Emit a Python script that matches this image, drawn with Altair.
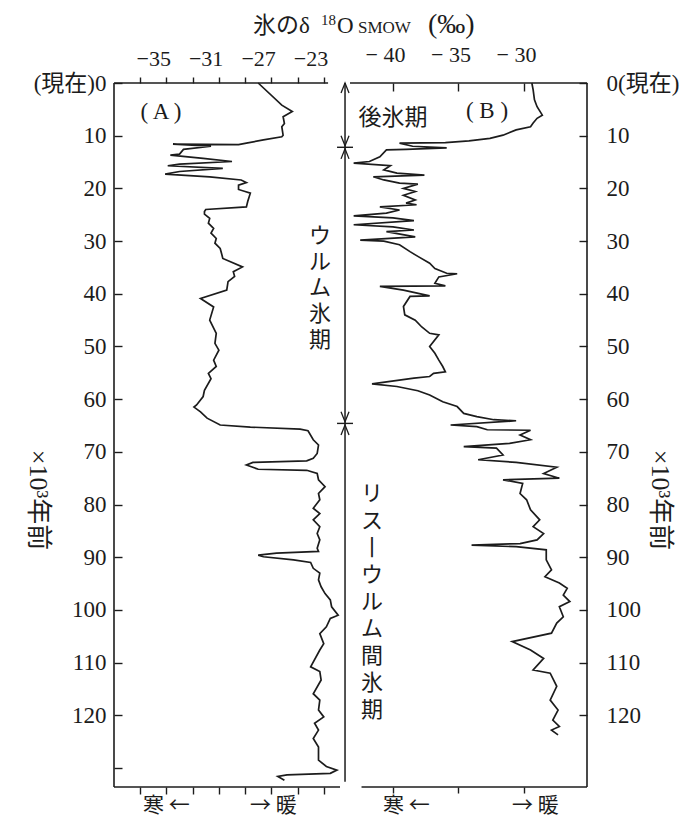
import altair as alt
import pandas as pd

# ---------------- data ----------------
# (A) curve: age (x10^3 years ago) and delta18O (permil)
age_A = [0.0, 4.2, 5.4, 6.4, 7.7, 8.3, 9.9, 10.2, 10.8, 11.4, 11.7, 11.6, 12.0, 12.6, 13.5, 13.7,
         14.3, 14.9, 15.4, 15.7, 16.2, 16.8, 17.3, 17.8, 18.4, 18.9, 19.4, 20.2, 20.6, 20.9, 22.5,
         23.5, 24.0, 24.4, 24.9, 25.7, 26.6, 27.6, 28.5, 29.5, 30.4, 31.4, 32.3, 33.3, 34.9, 35.8,
         36.7, 37.7, 39.3, 40.9, 42.5, 45.0, 47.5, 49.4, 50.7, 52.6, 53.8, 55.1, 56.1, 58.3, 59.5,
         61.1, 61.5, 62.4, 63.6, 64.9, 65.3, 65.7, 66.0, 67.7, 68.7, 70.3, 71.2, 71.7, 72.0, 72.5,
         73.3, 73.5, 74.1, 75.3, 76.6, 77.9, 79.1, 80.7, 81.7, 82.9, 84.2, 85.5, 86.7, 88.3, 88.9,
         89.2, 89.6, 89.9, 90.5, 91.0, 92.1, 93.0, 94.3, 95.6, 96.9, 98.1, 99.4, 101.0, 101.6,
         103.2, 104.5, 106.4, 107.6, 110.8, 111.7, 113.3, 115.9, 117.1, 119.0, 120.3, 121.5, 122.8,
         124.4, 126.0, 128.5, 129.7, 130.4, 131.0, 131.3, 131.6, 132.3]
d18O_A = [-28.0, -26.2, -25.4, -26.1, -26.0, -26.2, -26.1, -26.2, -27.6, -28.9, -29.5, -34.5, -31.6,
          -33.7, -34.0, -34.7, -32.2, -30.0, -34.0, -34.9, -30.7, -34.0, -35.1, -31.7, -29.3, -28.9,
          -29.5, -29.5, -29.0, -28.6, -28.8, -28.9, -32.0, -32.1, -32.1, -31.7, -31.8, -31.4, -31.6,
          -31.2, -31.3, -30.9, -30.8, -30.7, -29.2, -29.9, -29.8, -30.3, -30.4, -32.4, -31.4, -31.7,
          -31.2, -31.3, -31.0, -31.4, -31.2, -31.8, -31.6, -32.1, -32.2, -32.7, -32.9, -32.4, -31.9,
          -30.9, -28.6, -24.8, -24.2, -23.8, -23.4, -23.5, -23.8, -24.3, -28.4, -28.9, -28.0, -24.3,
          -23.5, -23.4, -22.9, -23.4, -23.3, -23.8, -23.3, -23.8, -23.3, -23.5, -23.3, -23.5, -23.4,
          -26.6, -28.0, -27.6, -25.3, -24.0, -23.8, -23.3, -23.4, -23.2, -22.9, -22.5, -22.4, -21.9,
          -22.5, -22.8, -23.3, -23.0, -23.3, -24.0, -23.3, -23.2, -23.8, -23.3, -23.4, -23.0, -23.7,
          -23.4, -23.8, -23.4, -23.4, -22.8, -22.0, -22.5, -25.8, -26.5, -26.0]

# (B) curve
age_B = [0.0, 1.3, 3.2, 4.5, 6.1, 6.7, 7.6, 8.3, 8.9, 9.9, 10.5, 11.0, 11.3, 11.4, 12.0, 12.3, 12.6,
         12.7, 14.0, 14.9, 15.2, 15.7, 16.5, 17.1, 17.5, 17.8, 18.4, 19.0, 19.2, 20.0, 20.6, 21.3,
         22.2, 22.8, 23.1, 23.5, 24.1, 24.7, 25.2, 25.6, 26.1, 26.9, 27.3, 27.9, 28.2, 29.2, 29.8,
         30.0, 30.7, 32.0, 32.9, 34.2, 35.2, 36.1, 36.2, 36.8, 38.0, 38.5, 38.6, 39.3, 40.4, 40.5,
         42.4, 44.0, 45.0, 46.3, 47.5, 47.8, 50.0, 51.3, 52.6, 53.8, 54.8, 55.1, 55.7, 56.0, 57.1,
         57.6, 58.4, 59.2, 60.5, 61.4, 62.7, 63.3, 63.9, 64.1, 64.9, 65.2, 65.8, 65.9, 66.8, 67.7,
         68.4, 69.0, 69.3, 70.6, 71.5, 72.0, 72.9, 74.1, 75.0, 75.3, 76.0, 77.9, 79.1, 81.0, 82.9,
         84.2, 85.5, 86.7, 87.4, 87.7, 88.0, 88.6, 90.5, 92.4, 93.7, 94.9, 95.9, 97.2, 98.4, 99.4,
         101.3, 102.5, 104.4, 106.0, 107.6, 109.2, 111.4, 112.0, 114.5, 117.1, 119.0, 120.9, 122.1,
         122.8, 123.7]
d18O_B = [-29.4, -29.3, -29.2, -29.0, -28.6, -29.0, -29.3, -29.5, -30.6, -31.6, -32.6, -34.2, -36.0,
          -39.5, -38.5, -35.9, -39.0, -40.5, -41.0, -41.8, -43.0, -40.2, -40.7, -39.7, -37.6, -41.5,
          -40.7, -39.5, -38.1, -39.2, -38.3, -39.2, -38.3, -39.0, -38.2, -41.0, -39.5, -40.5, -43.0,
          -40.0, -38.4, -43.0, -40.0, -38.4, -40.5, -38.3, -42.5, -40.7, -39.5, -38.7, -38.1, -37.2,
          -36.8, -35.9, -35.1, -36.5, -36.8, -36.0, -41.0, -39.2, -37.2, -38.7, -39.2, -39.1, -38.3,
          -37.8, -37.2, -36.5, -37.2, -36.8, -36.5, -36.2, -36.0, -36.9, -37.2, -38.4, -41.6, -39.7,
          -38.1, -37.2, -36.2, -35.1, -34.6, -33.6, -32.3, -30.6, -35.6, -33.6, -32.8, -29.5, -30.3,
          -29.5, -31.1, -34.6, -32.1, -31.6, -33.5, -30.6, -27.5, -28.5, -27.3, -31.6, -30.1, -30.3,
          -29.8, -29.5, -28.8, -29.3, -28.5, -29.0, -30.3, -34.0, -30.6, -28.3, -28.3, -27.9, -28.4,
          -27.3, -26.7, -27.0, -26.5, -27.3, -27.0, -27.5, -27.9, -30.9, -29.5, -28.5, -29.3, -28.0,
          -27.5, -28.0, -27.4, -27.8, -27.3, -27.9, -27.4]

ticks_A = [-37, -35, -33, -31, -29, -27, -25, -23]
labels_A = [-35, -31, -27, -23]
ticks_B = [-40, -35, -30]
age_ticks_A = [0, 10, 20, 30, 40, 50, 60, 70, 80, 90, 100, 110, 120, 130]
age_ticks_B = [0, 10, 20, 30, 40, 50, 60, 70, 80, 90, 100, 110, 120]
period_bounds = [12.2, 64.6]   # 後氷期 / ウルム氷期 / リス-ウルム間氷期
glacial_chars = ["ウ", "ル", "ム", "氷", "期"]
interglacial_chars = ["リ", "ス", "丨", "ウ", "ル", "ム", "間", "氷", "期"]

# ---------------- styling ----------------
INK = "#1c1c1c"
SERIF = "'Liberation Serif', 'Noto Sans CJK JP'"
JP = "'Noto Sans CJK JP'"
AGE_MAX = 133.6
A_DOM = [-39.0, -21.76]
B_DOM = [-43.28, -25.19]
W, H = 473, 704

sA = alt.Scale(domain=A_DOM, range=[0, 226], nice=False, zero=False)
sB = alt.Scale(domain=B_DOM, range=[236, 473], nice=False, zero=False)
sY = alt.Scale(domain=[0, AGE_MAX], reverse=True, nice=False, zero=False)

common_axis = dict(domain=False, grid=False, tickColor=INK, tickWidth=1.4, labelColor=INK,
                   labelFont=SERIF, labelOverlap=False, labelFlush=False, title=None)

ax_A_top = alt.Axis(orient="top", values=ticks_A, tickSize=6, labelFontSize=22,
                    labelExpr="indexof(%s, datum.value) >= 0 ? '−' + abs(datum.value) : ''" % labels_A,
                    labelAlign="right", labelOffset=4, labelPadding=7, **common_axis)
ax_A_bottom = alt.Axis(orient="bottom", values=ticks_A, tickSize=7, labels=False, **common_axis)
ax_A_left = alt.Axis(orient="left", values=age_ticks_A, offset=-8, tickSize=8, labelFontSize=23,
                     labelExpr="datum.value == 0 ? '(現在)0' : (datum.value == 130 ? '' : datum.label)",
                     labelPadding=8, labelBaseline="middle", **common_axis)
ax_B_top = alt.Axis(orient="top", values=ticks_B, offset=-8, tickSize=8, labelFontSize=22,
                    labelExpr="'− ' + abs(datum.value)", labelAlign="center", labelOffset=-8,
                    labelPadding=17, **common_axis)
ax_B_bottom = alt.Axis(orient="bottom", values=ticks_B, tickSize=6, labels=False, **common_axis)
ax_B_right = alt.Axis(orient="right", values=age_ticks_B, offset=-8, tickSize=8, labelFontSize=23,
                      labelExpr="datum.value == 0 ? '0(現在)' : datum.label", labelAlign="left",
                      labelPadding=19, labelBaseline="middle", **common_axis)

one = pd.DataFrame({"k": [0]})


def xdat(v, s, axis=None):
    return alt.X(datum=v, type="quantitative", scale=s, axis=axis)


def ydat(v, axis=None):
    return alt.Y(datum=v, type="quantitative", scale=sY, axis=axis)


def hrule(s, x0, x1, age, axis=None):
    return alt.Chart(one).mark_rule(color=INK, strokeWidth=1.6).encode(
        x=xdat(x0, s, axis), x2=alt.X2(datum=x1), y=ydat(age))


def vrule(s, xv, a0, a1, width=1.6):
    return alt.Chart(one).mark_rule(color=INK, strokeWidth=width).encode(
        x=xdat(xv, s), y=ydat(a0), y2=alt.Y2(datum=a1))


def text(t, x, y, size, font=JP, align="center", baseline="middle", angle=0):
    kw = dict(text=t, fontSize=size, font=font, color=INK, align=align, baseline=baseline)
    if angle:
        kw["angle"] = angle
    return alt.Chart(one).mark_text(**kw).encode(x=alt.value(x), y=alt.value(y))


def vertical(chars, x, y0, step, size):
    df = pd.DataFrame({"c": chars, "k": range(len(chars))})
    return alt.Chart(df).transform_calculate(py="%f + datum.k * %f" % (y0, step)).mark_text(
        fontSize=size, font=JP, color=INK, align="center", baseline="middle").encode(
        text="c:N", x=alt.value(x), y=alt.Y("py:Q", scale=None, axis=None))


# ---------------- panel A ----------------
dfA = pd.DataFrame({"age": age_A, "val": d18O_A, "i": range(len(age_A))})
lineA = alt.Chart(dfA).mark_line(color=INK, strokeWidth=1.7).encode(
    x=alt.X("val:Q", scale=sA, axis=ax_A_top),
    y=alt.Y("age:Q", scale=sY, axis=ax_A_left),
    order="i:Q")

groupA = alt.layer(
    lineA,
    hrule(sA, A_DOM[0], A_DOM[1], AGE_MAX, ax_A_bottom),
    hrule(sA, A_DOM[0], -22.67, 0),
    vrule(sA, A_DOM[0], 0, AGE_MAX),
).resolve_axis(x="independent", y="independent")

# ---------------- panel B ----------------
dfB = pd.DataFrame({"age": age_B, "val": d18O_B, "i": range(len(age_B))})
lineB = alt.Chart(dfB).mark_line(color=INK, strokeWidth=1.7).encode(
    x=alt.X("val:Q", scale=sB, axis=ax_B_top),
    y=alt.Y("age:Q", scale=sY, axis=ax_B_right),
    order="i:Q")

dfBounds = pd.DataFrame({"age": period_bounds})
crossbars = alt.Chart(dfBounds).mark_rule(color=INK, strokeWidth=1.4).encode(
    x=xdat(-44.27, sB), x2=alt.X2(datum=-43.05), y=alt.Y("age:Q", scale=sY, axis=None))

up_tips = pd.DataFrame({"age": [0.0] + [b + 0.3 for b in period_bounds]})
down_tips = pd.DataFrame({"age": [b - 0.3 for b in period_bounds]})
UP = "M-0.4,1L0,0L0.4,1"
DOWN = "M-0.4,-1L0,0L0.4,-1"
arr_up = alt.Chart(up_tips).mark_point(shape=UP, filled=False, size=400, color=INK, strokeWidth=1.3,
                                       opacity=1).encode(
    x=xdat(-43.66, sB), y=alt.Y("age:Q", scale=sY, axis=None))
arr_down = alt.Chart(down_tips).mark_point(shape=DOWN, filled=False, size=400, color=INK,
                                           strokeWidth=1.3, opacity=1).encode(
    x=xdat(-43.66, sB), y=alt.Y("age:Q", scale=sY, axis=None))

groupB = alt.layer(
    lineB,
    hrule(sB, -42.4, B_DOM[1], AGE_MAX, ax_B_bottom),
    hrule(sB, B_DOM[0], B_DOM[1], 0),
    vrule(sB, B_DOM[1], 0, AGE_MAX),
    vrule(sB, -43.66, 0, 132.6, width=1.5),
    crossbars, arr_up, arr_down,
).resolve_axis(x="independent", y="independent")

# ---------------- annotations ----------------
texts = [
    text("氷のδ", 139, -50, 23, font=SERIF, align="left", baseline="alphabetic"),
    text("18", 207, -58, 15, font=SERIF, align="left", baseline="alphabetic"),
    text("O", 223, -50, 23, font=SERIF, align="left", baseline="alphabetic"),
    text("SMOW", 244, -50, 17, font=SERIF, align="left", baseline="alphabetic"),
    text("(‰)", 314, -50, 28, font=SERIF, align="left", baseline="alphabetic"),
    text("( A )", 47, 29, 23, font=SERIF),
    text("( B )", 373, 28, 23, font=SERIF),
    text("後氷期", 279, 35, 23),
    text("×10³年前", -76, 417, 26, font=SERIF, angle=90),
    text("×10³年前", 546, 417, 26, font=SERIF, angle=90),
    text("寒 ←", 29, 723, 21, align="left"),
    text("→ 暖", 136, 723, 21, align="left"),
    text("寒 ←", 269, 723, 21, align="left"),
    text("→ 暖", 398, 723, 21, align="left"),
]

chart = alt.layer(
    groupA, groupB,
    vertical(glacial_chars, 206, 153, 26, 22),
    vertical(interglacial_chars, 258, 411, 27, 22),
    *texts,
).resolve_scale(x="independent", y="independent").resolve_axis(
    x="independent", y="independent").properties(
    width=W, height=H,
    autosize=alt.AutoSizeParams(type="none"),
    padding={"left": 106, "top": 75, "right": 100, "bottom": 35},
    background="white",
).configure_view(stroke=None)

chart.save("out.html", embed_options={"renderer": "svg", "actions": False})
